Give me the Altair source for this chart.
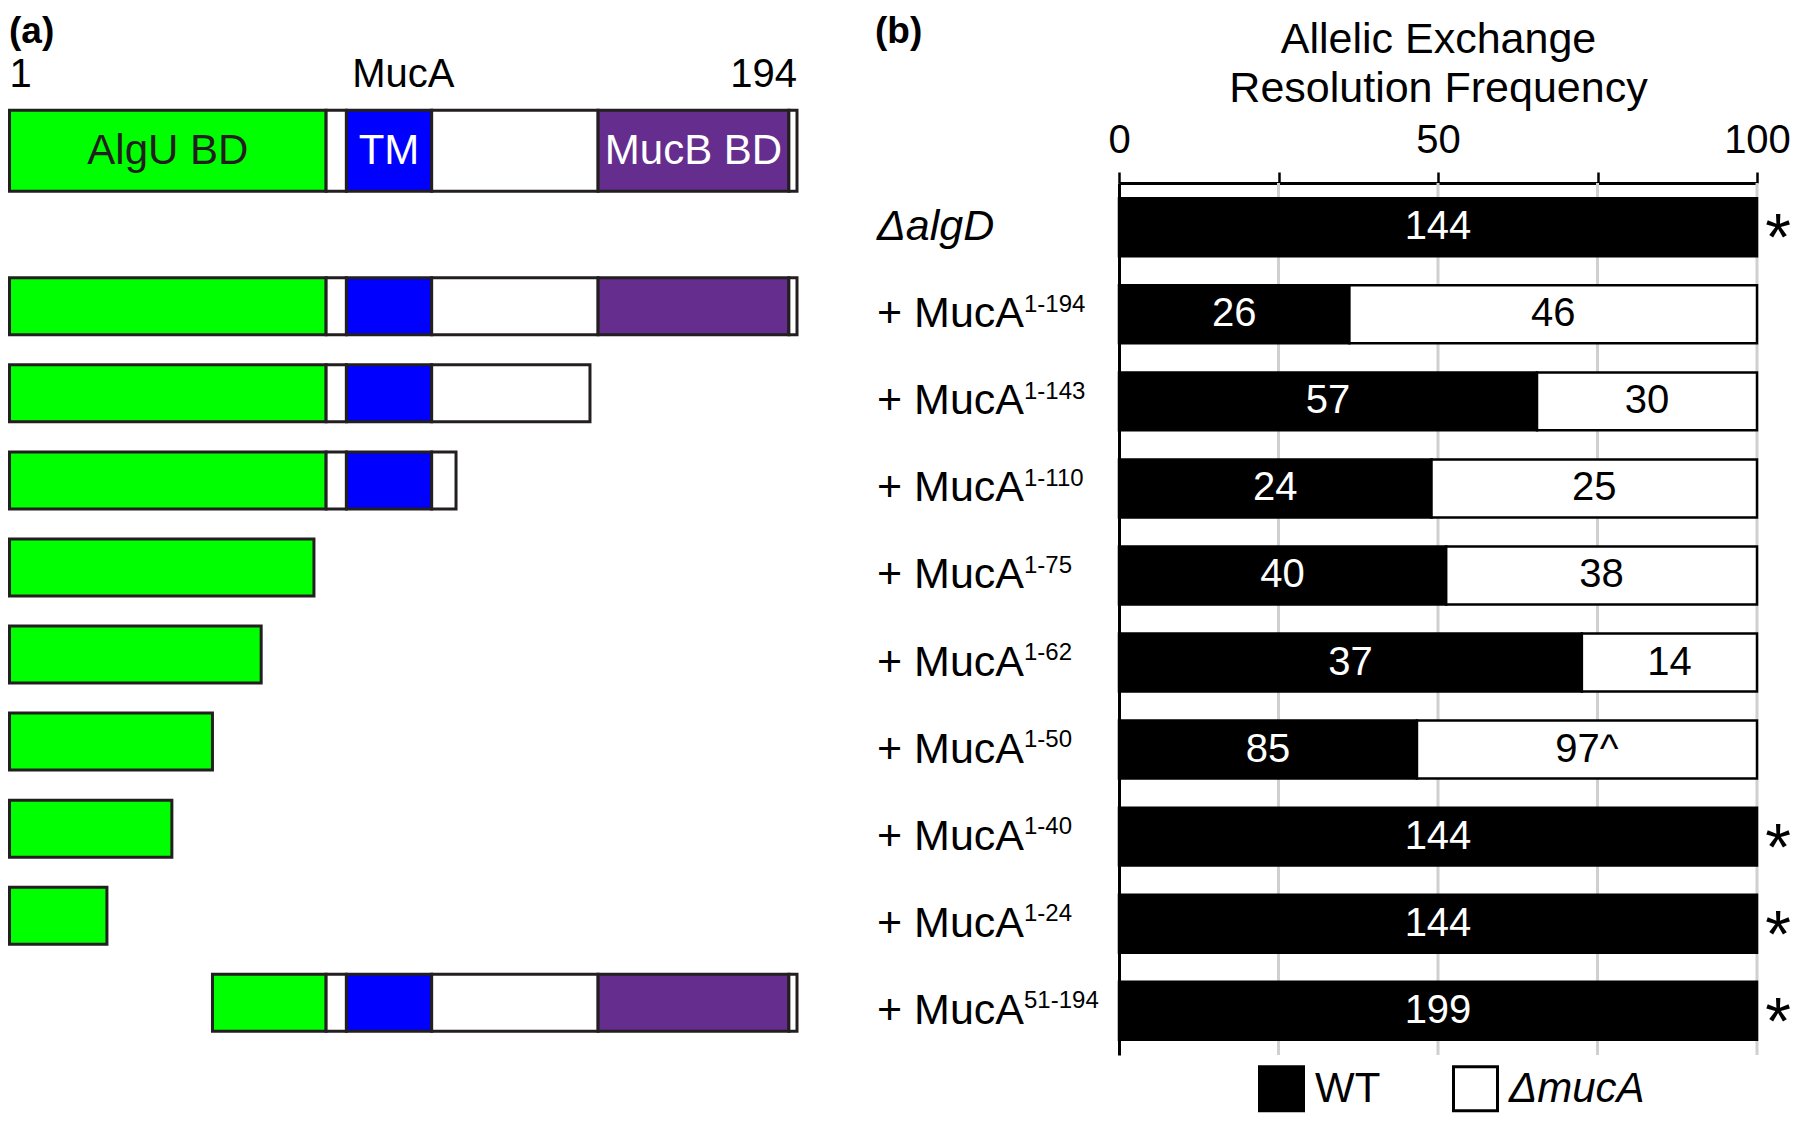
import altair as alt
import pandas as pd

FONT = "Liberation Sans, Arial, Helvetica, sans-serif"

# ---------------- panel (b) data ----------------
rows = ["ΔalgD", "1-194", "1-143", "1-110", "1-75", "1-62", "1-50", "1-40", "1-24", "51-194"]
wt_counts = [144, 26, 57, 24, 40, 37, 85, 144, 144, 199]
muca_counts = [0, 46, 30, 25, 38, 14, 97, 0, 0, 0]
muca_notes = ["", "", "", "", "", "", "^", "", "", ""]
significant = [True, False, False, False, False, False, False, True, True, True]
series = ["WT", "ΔmucA"]
x_ticks = [0, 25, 50, 75, 100]
x_labels = [0, 50, 100]
grid_values = [25, 50, 75, 100]
x_title = ["Allelic Exchange", "Resolution Frequency"]
row_prefix = "+ MucA"

# ---------------- panel (a) data ----------------
construct_rows = rows[1:]
construct_start = [1, 1, 1, 1, 1, 1, 1, 1, 51]
construct_end = [194, 143, 110, 75, 62, 50, 40, 24, 194]
full_length = 194

domain_names = ["AlgU BD", "", "TM", "", "MucB BD", ""]
domain_start = [1, 79, 84, 105, 146, 193]
domain_end = [78, 83, 104, 145, 192, 194]
domain_colors = ["#00ff00", "#ffffff", "#0000ff", "#ffffff", "#652d8e", "#ffffff"]
domain_text_colors = ["#231f20", "#231f20", "#ffffff", "#231f20", "#ffffff", "#231f20"]
header_labels = ["1", "MucA", "194"]
header_pos = [0, 97, 194]

# ---------------- tables ----------------
bar_recs = []
for r, w, m, note in zip(rows, wt_counts, muca_counts, muca_notes):
    tot = w + m
    p = w / tot * 100
    bar_recs.append(dict(row=r, series="WT", start=0, end=p, mid=p / 2,
                         label=str(w), tcolor="white"))
    if m > 0:
        bar_recs.append(dict(row=r, series="ΔmucA", start=p, end=100, mid=(p + 100) / 2,
                             label=f"{m}{note}", tcolor="black"))
bars_df = pd.DataFrame(bar_recs)

star_df = pd.DataFrame({"row": [r for r, s in zip(rows, significant) if s],
                        "end": [100 for s in significant if s]})
sup_df = pd.DataFrame({"row": construct_rows, "prefix": [row_prefix] * len(construct_rows)})
first_df = pd.DataFrame({"row": rows[:1]})
grid_df = pd.DataFrame({"v": grid_values})

seg_recs = []


def add_segments(row, s, e, kind):
    for name, ds, de, col, tcol in zip(domain_names, domain_start, domain_end,
                                       domain_colors, domain_text_colors):
        a = max(s, ds)
        b = min(e, de)
        if a <= b:
            seg_recs.append(dict(row=row, x0=a - 1, x1=b, fill=col, kind=kind,
                                 name=name, tcol=tcol, mid=(a - 1 + b) / 2))


add_segments(rows[0], 1, full_length, "header")
for r, s, e in zip(construct_rows, construct_start, construct_end):
    add_segments(r, s, e, "construct")
seg_df = pd.DataFrame(seg_recs)
head_seg_df = seg_df[seg_df["kind"] == "header"]
cons_seg_df = seg_df[seg_df["kind"] == "construct"]
head_txt_df = pd.DataFrame({"row": [rows[0]] * 3, "pos": header_pos, "label": header_labels})

# ---------------- scales / axes ----------------
yscale = alt.Scale(domain=rows, paddingInner=0.334, paddingOuter=0.1755)
yaxis = alt.Axis(
    orient="left", domain=True, domainColor="black", domainWidth=3,
    ticks=False, labels=False, grid=False, title=None, zindex=1,
)
Y = alt.Y("row:N", scale=yscale, axis=yaxis)

lab_list = ",".join(str(v) for v in x_labels)
xscale = alt.Scale(domain=[0, 100], nice=False, zero=True)
xaxis = alt.Axis(
    orient="top", values=x_ticks,
    labelExpr=f"indexof([{lab_list}], datum.value) >= 0 ? datum.label : ''",
    labelFlush=False, labelOverlap=False, labelFont=FONT, labelFontSize=40,
    labelColor="black", labelPadding=12,
    tickSize=11, tickWidth=2.5, tickColor="black",
    domainColor="black", domainWidth=3, grid=False,
    title=x_title, titleFont=FONT, titleFontSize=43, titleFontWeight="normal",
    titleColor="black", titlePadding=10, titleLineHeight=49,
)


def X(field):
    return alt.X(field, scale=xscale, axis=xaxis)


lscale = alt.Scale(domain=[0, full_length], range=[-1109.5, -322], nice=False, zero=False)

# ---------------- panel (b) layers ----------------
grid = alt.Chart(grid_df).mark_rule(color="#d0d0d0", strokeWidth=3).encode(x=X("v:Q"))

bars = alt.Chart(bars_df).mark_bar(stroke="black", strokeWidth=2.5).encode(
    x=X("start:Q"),
    x2="end:Q",
    y=Y,
    fill=alt.Fill("series:N", scale=alt.Scale(domain=series, range=["black", "white"]),
                  legend=alt.Legend(
                      orient="none", legendX=139, legendY=882, direction="horizontal",
                      title=None, symbolType="square", symbolSize=1936,
                      symbolStrokeColor="black", symbolStrokeWidth=3, symbolOpacity=1,
                      labelFont=FONT, labelFontSize=42, labelColor="black",
                      labelOffset=10, columnPadding=66, padding=0, labelLimit=400,
                      labelFontStyle={"expr": "datum.label == 'ΔmucA' ? 'italic' : 'normal'"},
                  )),
)

bar_text = alt.Chart(bars_df).mark_text(font=FONT, fontSize=40, baseline="middle").encode(
    x=X("mid:Q"),
    y=Y,
    text="label:N",
    color=alt.Color("tcolor:N", scale=None),
)

stars = alt.Chart(star_df).mark_text(
    font=FONT, fontSize=66, baseline="alphabetic", align="center", dx=21, dy=33,
    color="black", text="*",
).encode(x=X("end:Q"), y=Y)

row_first = alt.Chart(first_df).mark_text(
    font=FONT, fontSize=43, fontStyle="italic", baseline="middle", align="left",
    color="black",
).encode(x=alt.value(-242), y=Y, text="row:N")

row_main = alt.Chart(sup_df).mark_text(
    font=FONT, fontSize=43, baseline="middle", align="left", color="black",
).encode(x=alt.value(-242), y=Y, text="prefix:N")

sups = alt.Chart(sup_df).mark_text(
    font=FONT, fontSize=24, baseline="alphabetic", align="left", dy=-2.5, color="black",
).encode(x=alt.value(-95), y=Y, text="row:N")

right = alt.layer(grid, bars, bar_text, stars, row_first, row_main, sups)

# ---------------- panel (a) layers ----------------
head_bar = alt.Chart(head_seg_df).mark_bar(
    size=81, yOffset=-76.5, stroke="#231f20", strokeWidth=3,
).encode(
    x=alt.X("x0:Q", scale=lscale, axis=None), x2="x1:Q", y=Y,
    fill=alt.Fill("fill:N", scale=None),
)
head_seg_text = alt.Chart(head_seg_df).mark_text(
    font=FONT, fontSize=42, baseline="middle", yOffset=-76.5,
).encode(
    x=alt.X("mid:Q", scale=lscale, axis=None), y=Y, text="name:N",
    color=alt.Color("tcol:N", scale=None),
)
cons_bar = alt.Chart(cons_seg_df).mark_bar(
    size=57, yOffset=-8, stroke="#231f20", strokeWidth=3,
).encode(
    x=alt.X("x0:Q", scale=lscale, axis=None), x2="x1:Q", y=Y,
    fill=alt.Fill("fill:N", scale=None),
)
head_labels = []
for i, al in enumerate(["left", "center", "right"]):
    head_labels.append(
        alt.Chart(head_txt_df.iloc[[i]]).mark_text(
            font=FONT, fontSize=40, baseline="alphabetic", align=al, yOffset=-140.5,
            color="black",
        ).encode(x=alt.X("pos:Q", scale=lscale, axis=None), y=Y, text="label:N")
    )

letters = [
    alt.Chart(pd.DataFrame({"t": [t]})).mark_text(
        font=FONT, fontSize=37, fontWeight="bold", baseline="alphabetic", align="left",
        color="black",
    ).encode(x=alt.value(px), y=alt.value(-140.5), text="t:N")
    for t, px in [("(a)", -1110), ("(b)", -244)]
]

left = alt.layer(head_bar, cons_bar, head_seg_text, *head_labels, *letters)

chart = alt.layer(right, left).resolve_scale(
    x="independent", fill="independent", color="independent"
).properties(
    width=638, height=872,
    padding={"left": 1111, "top": 175, "right": 35, "bottom": 61},
    autosize=alt.AutoSizeParams(type="none"),
    background="white",
).configure_view(strokeWidth=0)

chart.save("out.html", embed_options={"renderer": "svg", "actions": False})
